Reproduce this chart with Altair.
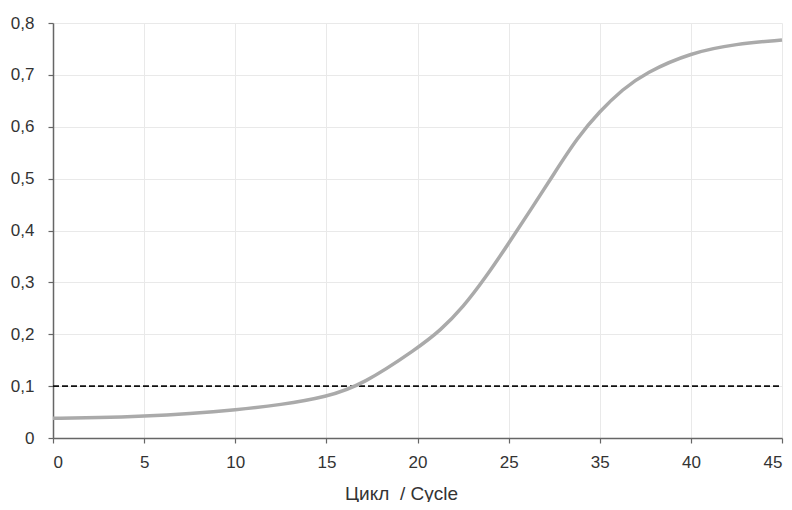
import altair as alt
import pandas as pd
import json

# Position along the axis (each tick step = 5 units) and the fluorescence value
positions = [0, 2.5, 5, 7.5, 10, 12.5, 15, 17, 20, 21.25, 22.5, 23.75, 25, 26.25, 27.5, 28.75,
             30, 31.25, 32.5, 35, 37.5, 40]
values = [0.038, 0.039, 0.042, 0.047, 0.054, 0.064, 0.079, 0.103, 0.173, 0.207, 0.252, 0.310, 0.375, 0.442, 0.510, 0.578,
          0.630, 0.672, 0.704, 0.743, 0.760, 0.767]

# Printed tick labels of the x axis (as they appear on the original)
x_tick_values = [0, 5, 10, 15, 20, 25, 30, 35, 40]
x_tick_labels = ["0", "5", "10", "15", "20", "25", "35", "40", "45"]
y_tick_values = [0, 0.1, 0.2, 0.3, 0.4, 0.5, 0.6, 0.7, 0.8]
threshold = 0.1

curve_df = pd.DataFrame({"pos": positions, "value": values})
thr_df = pd.DataFrame({"pos": [0, 40], "value": [threshold, threshold]})

FONT = "Liberation Sans"
label_expr = json.dumps(x_tick_labels) + "[round(datum.value / 5)]"

x_scale = alt.Scale(domain=[0, 40], nice=False, zero=False)
y_scale = alt.Scale(domain=[0, 0.8], nice=False)

x_axis = alt.Axis(
    values=x_tick_values,
    labelExpr=label_expr,
    title="Цикл\u00a0\u00a0/ Cycle",
    titleFont=FONT, titleFontSize=19, titleFontWeight="normal", titleColor="#333333",
    titleX=348, titleY=61, titleBaseline="alphabetic", titleAlign="center", titleAnchor="start",
    labelFont=FONT, labelFontSize=17, labelColor="#333333", labelPadding=11,
    domainColor="#666666", domainWidth=1.5, tickColor="#666666", tickSize=5, tickWidth=1.2,
    grid=True, gridColor="#e9e9e9", gridWidth=1,
)
y_axis = alt.Axis(
    values=y_tick_values,
    labelExpr="replace(format(datum.value, '.1~f'), '.', ',')",
    title=None,
    labelFont=FONT, labelFontSize=17, labelColor="#333333", labelPadding=14,
    domainColor="#666666", domainWidth=1.5, tickColor="#666666", tickSize=5, tickWidth=1.2,
    grid=True, gridColor="#e9e9e9", gridWidth=1,
)

curve = alt.Chart(curve_df).mark_line(
    color="#aaaaaa", strokeWidth=3.5, interpolate="basis"
).encode(
    x=alt.X("pos:Q", scale=x_scale, axis=x_axis),
    y=alt.Y("value:Q", scale=y_scale, axis=y_axis),
)

thr = alt.Chart(thr_df).mark_line(
    color="#111111", strokeWidth=1.6, strokeDash=[6, 3]
).encode(
    x=alt.X("pos:Q", scale=x_scale),
    y=alt.Y("value:Q", scale=y_scale),
)

chart = alt.layer(thr, curve).properties(
    width=729, height=415,
    padding={"left": 45, "top": 15, "right": 2, "bottom": 64},
    autosize=alt.AutoSizeParams(type="none"),
    background="white",
).configure_view(stroke=None)

chart.save("out.html", embed_options={"renderer": "svg", "actions": False})
